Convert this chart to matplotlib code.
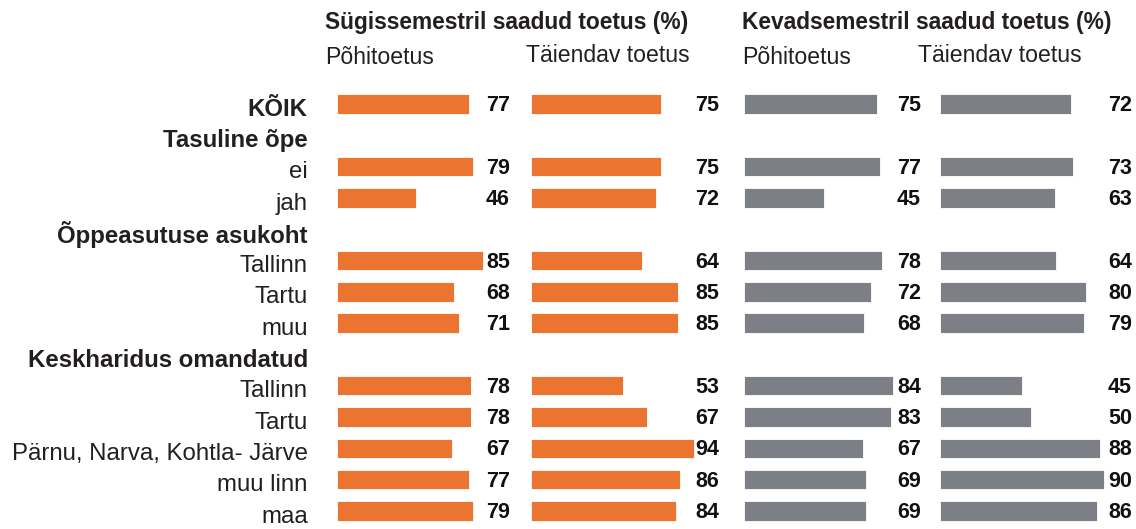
import matplotlib
matplotlib.use("Agg")
import matplotlib.pyplot as plt
import numpy as np

plt.rcParams["font.family"] = ["Liberation Sans", "DejaVu Sans"]

# Read ridade nimed; päised (ilma tulpadeta) on paksus kirjas
rows = ["KÕIK", "Tasuline õpe", "ei", "jah", "Õppeasutuse asukoht",
        "Tallinn", "Tartu", "muu", "Keskharidus omandatud",
        "Tallinn", "Tartu", "Pärnu, Narva, Kohtla- Järve", "muu linn", "maa"]
bold_rows = ["KÕIK", "Tasuline õpe", "Õppeasutuse asukoht", "Keskharidus omandatud"]

sugis_pohi     = [77, None, 79, 46, None, 85, 68, 71, None, 78, 78, 67, 77, 79]
sugis_taiendav = [75, None, 75, 72, None, 64, 85, 85, None, 53, 67, 94, 86, 84]
kevad_pohi     = [75, None, 77, 45, None, 78, 72, 68, None, 84, 83, 67, 69, 69]
kevad_taiendav = [72, None, 73, 63, None, 64, 80, 79, None, 45, 50, 88, 90, 86]

ORANGE = "#EC7431"
GRAY = "#7C8086"
TEXT = "#231F20"

W, H = 1136, 529

fig = plt.figure(figsize=(W / 100, H / 100), dpi=100, facecolor="white")

# paneelid: (andmed, värv, vasak serv px, parem serv px, px ühiku kohta)
panels = [
    (sugis_pohi, ORANGE, 337, 510, 1.72),
    (sugis_taiendav, ORANGE, 531, 719, 1.73),
    (kevad_pohi, GRAY, 744, 921, 1.77),
    (kevad_taiendav, GRAY, 940, 1132, 1.82),
]

row_top, row_step = 104, 31.3
n = len(rows)
ax_top = row_top - 0.5 * row_step
ax_bot = row_top + (n - 0.5) * row_step
y = np.arange(n)

axes = []
for values, color, left, right, ppu in panels:
    ax = fig.add_axes([left / W, 1 - ax_bot / H, (right - left) / W, (ax_bot - ax_top) / H])
    xmax = (right - left) / ppu
    vals = np.array([np.nan if v is None else v for v in values], dtype=float)
    ax.barh(y, vals, height=0.62, color=color, edgecolor="white", linewidth=0.6)
    for i, v in enumerate(values):
        if v is not None:
            ax.text(xmax, i + 0.05, str(v), ha="right", va="center",
                    fontsize=15.5, fontweight="bold", color="#111111")
    ax.set_xlim(0, xmax)
    ax.set_ylim(n - 0.5, -0.5)
    ax.set_xticks([])
    ax.set_yticks([])
    for s in ax.spines.values():
        s.set_visible(False)
    ax.patch.set_alpha(0)
    axes.append(ax)

# ridade nimed vasakul
ax0 = axes[0]
ax0.set_yticks(y + 0.1)
ax0.set_yticklabels(rows)
ax0.tick_params(axis="y", length=0, pad=21, labelsize=17.3, labelcolor=TEXT)
for lbl in ax0.get_yticklabels():
    if lbl.get_text() in bold_rows:
        lbl.set_fontweight("bold")

# veerupäised
fig.text(325 / W, 1 - 22 / H, "Sügissemestril saadud toetus (%)", ha="left", va="center",
         fontsize=16.4, fontweight="bold", color=TEXT)
fig.text(742 / W, 1 - 22 / H, "Kevadsemestril saadud toetus (%)", ha="left", va="center",
         fontsize=16.4, fontweight="bold", color=TEXT)
for x, yy, txt in [(325, 58, "Põhitoetus"), (526, 55, "Täiendav toetus"),
                   (742, 58, "Põhitoetus"), (918, 55, "Täiendav toetus")]:
    fig.text(x / W, 1 - yy / H, txt, ha="left", va="center", fontsize=16.6, color=TEXT)

fig.savefig("out.png", dpi=100, facecolor="white")
